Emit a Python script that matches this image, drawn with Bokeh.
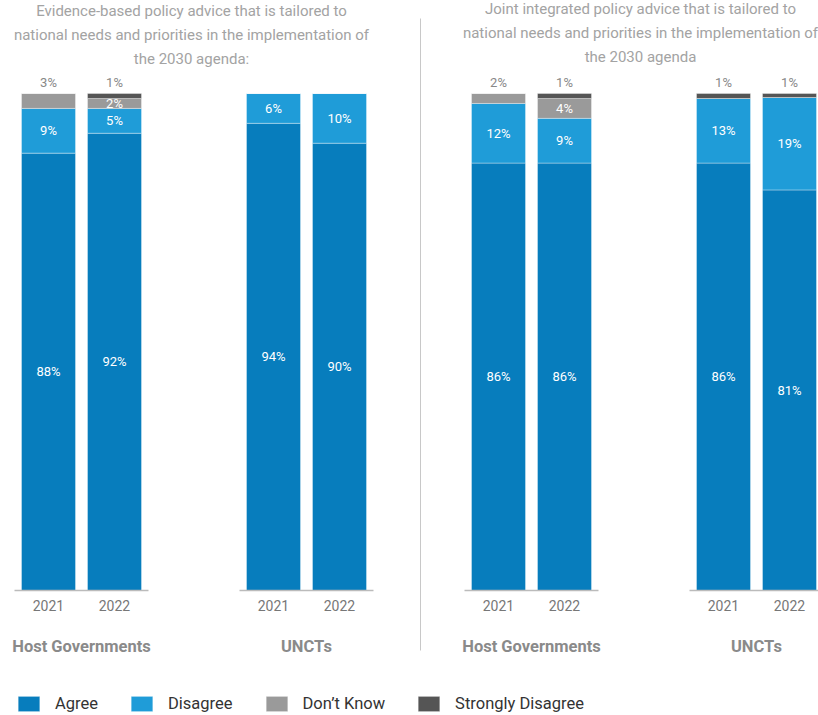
from bokeh.plotting import figure
from bokeh.models import (Range1d, LinearAxis, FixedTicker, ColumnDataSource,
                          Legend, LegendItem)
from bokeh.core.properties import value
from bokeh.embed import file_html
from bokeh.resources import INLINE

# ---------------- data ----------------
titles = [
    "Evidence-based policy advice that is tailored to\nnational needs and priorities in the implementation of\nthe 2030 agenda:",
    "Joint integrated policy advice that is tailored to\nnational needs and priorities in the implementation of\nthe 2030 agenda",
]
groups = ["Host Governments", "UNCTs"]
years = ["2021", "2022"]
categories = ["Agree", "Disagree", "Don\u2019t Know", "Strongly Disagree"]

# bar order: panel 1 (HG 2021, HG 2022, UNCTs 2021, UNCTs 2022), then panel 2
agree = [88, 92, 94, 90, 86, 86, 86, 80.6]
disagree = [9, 5, 6, 10, 12, 9, 13, 18.6]
dont_know = [3, 2, 0, 0, 2, 4, 0, 0]
strongly_disagree = [0, 1, 0, 0, 0, 1, 1, 0.8]
series = [agree, disagree, dont_know, strongly_disagree]

# ---------------- styles / layout ----------------
colors = ["#077dbd", "#1f9cd8", "#9a9a9a", "#555555"]
FONT = "Roboto"
W, H = 818, 715
PAGE = 0
BASE_PX, FULL_PX = 590, 93          # screen y of 0% and 100%
unit = (BASE_PX - FULL_PX) / 100.0
y_start = (BASE_PX - (PAGE + H)) / unit
y_end = (BASE_PX - PAGE) / unit

first_x, year_step, group_step, panel_step, bar_w = 48, 66, 225, 450, 54

xs, year_of_bar = [], []
for pi in range(len(titles)):
    for gi in range(len(groups)):
        for yi in range(len(years)):
            xs.append(first_x + pi * panel_step + gi * group_step + yi * year_step)
            year_of_bar.append(years[yi])
group_centers = []
group_names = []
for pi in range(len(titles)):
    for gi in range(len(groups)):
        group_centers.append(first_x + pi * panel_step + gi * group_step + year_step / 2)
        group_names.append(groups[gi])

p = figure(width=W, height=H, x_range=Range1d(PAGE, PAGE + W),
           y_range=Range1d(y_start, y_end), output_backend="svg",
           toolbar_location=None, x_axis_type=None, y_axis_type=None,
           min_border=0)
p.extra_y_ranges = {"px": Range1d(PAGE + H, PAGE)}
p.outline_line_color = None
p.background_fill_color = "white"
p.border_fill_color = "white"

# stacked bars
bottoms = [0.0] * len(xs)
renderers = []
in_x, in_y, in_t = [], [], []
out_x, out_y, out_t = [], [], []
tops_total = [sum(s[i] for s in series) for i in range(len(xs))]
for ci, (cat, vals) in enumerate(zip(categories, series)):
    tops = [b + v for b, v in zip(bottoms, vals)]
    src = ColumnDataSource(dict(x=xs, bottom=bottoms, top=tops))
    r = p.vbar(x="x", width=bar_w, bottom="bottom", top="top", source=src,
               fill_color=colors[ci], line_color="white", line_alpha=0.35,
               line_width=1)
    renderers.append(r)
    for i, v in enumerate(vals):
        if v <= 0:
            continue
        is_top = abs(tops[i] - tops_total[i]) < 1e-9
        lab = f"{round(v)}%"
        if is_top and v <= 3:
            out_x.append(xs[i]); out_y.append(tops[i] + 11 / unit); out_t.append(lab)
        else:
            in_x.append(xs[i]); in_y.append((bottoms[i] + tops[i]) / 2); in_t.append(lab)
    bottoms = tops

p.text(x=in_x, y=in_y, text=in_t, text_color="white", text_font=value(FONT),
       text_font_size="13px", text_align="center", text_baseline="middle")
p.text(x=out_x, y=out_y, text=out_t, text_color="#888888", text_font=value(FONT),
       text_font_size="13px", text_align="center", text_baseline="middle")

# baselines under each group
bx0 = [c - year_step / 2 - bar_w / 2 - 7 for c in group_centers]
bx1 = [c + year_step / 2 + bar_w / 2 + 7 for c in group_centers]
p.segment(x0=bx0, x1=bx1, y0=[0] * len(bx0), y1=[0] * len(bx0),
          line_color="#bbbbbb", line_width=1.5)

# divider between panels
p.segment(x0=[420], x1=[420], y0=[18], y1=[650], y_range_name="px",
          line_color="#c8c8c8", line_width=1)

# titles
title_x = [191, 640]
title_y = [34.5, 32.5]
p.text(x=title_x, y=title_y, text=titles, y_range_name="px",
       text_color="#a3a3a3", text_font=value(FONT), text_font_size="15px",
       text_align="center", text_baseline="middle", text_line_height=1.35)

# year axis
year_axis = LinearAxis(ticker=FixedTicker(ticks=xs),
                       major_label_overrides={int(x): y for x, y in zip(xs, year_of_bar)})
group_axis = LinearAxis(ticker=FixedTicker(ticks=group_centers),
                        major_label_overrides={float(x): g for x, g in zip(group_centers, group_names)})
for ax in (year_axis, group_axis):
    ax.fixed_location = 0
    ax.axis_line_color = None
    ax.major_tick_line_color = None
    ax.minor_tick_line_color = None
    ax.major_label_text_font = FONT
year_axis.major_label_text_font_size = "14px"
year_axis.major_label_text_color = "#777777"
year_axis.major_label_standoff = 3
group_axis.major_label_text_font_size = "16.5px"
group_axis.major_label_text_font_style = "bold"
group_axis.major_label_text_color = "#8a8a8a"
group_axis.major_label_standoff = 40
p.add_layout(year_axis, "below")
p.add_layout(group_axis, "below")

# legend
legend = Legend(items=[LegendItem(label=c, renderers=[r]) for c, r in zip(categories, renderers)],
                orientation="horizontal", location=(15, 2))
legend.glyph_width = 27
legend.glyph_height = 19
legend.label_standoff = 13
legend.spacing = 30
legend.padding = 0
legend.margin = 0
legend.border_line_color = None
legend.background_fill_alpha = 0
legend.label_text_font = FONT
legend.label_text_font_size = "16.5px"
legend.label_text_color = "#333333"
p.add_layout(legend, "center")

open("out.html", "w").write(file_html(p, INLINE))
